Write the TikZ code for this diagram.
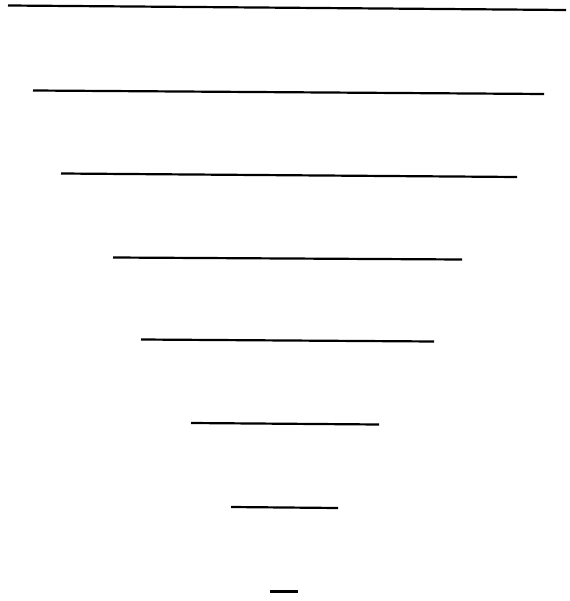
\documentclass[tikz,border=0pt]{standalone}
\begin{document}
\begin{tikzpicture}[x=1pt,y=-1pt,bar/.style={line width=2.2pt,black}]
\useasboundingbox (0,0) rectangle (569,601);
\draw[bar] (8,5.5) -- (566,10);
\draw[bar] (33,90.5) -- (544,94);
\draw[bar] (61,173.5) -- (517,177);
\draw[bar] (113,257.5) -- (462,259.5);
\draw[bar] (141,339.5) -- (434,341.5);
\draw[bar] (191,423) -- (379,424.5);
\draw[bar] (231,507) -- (338,508);
\draw[bar] (270,591.5) -- (298,591.5);
\end{tikzpicture}
\end{document}
